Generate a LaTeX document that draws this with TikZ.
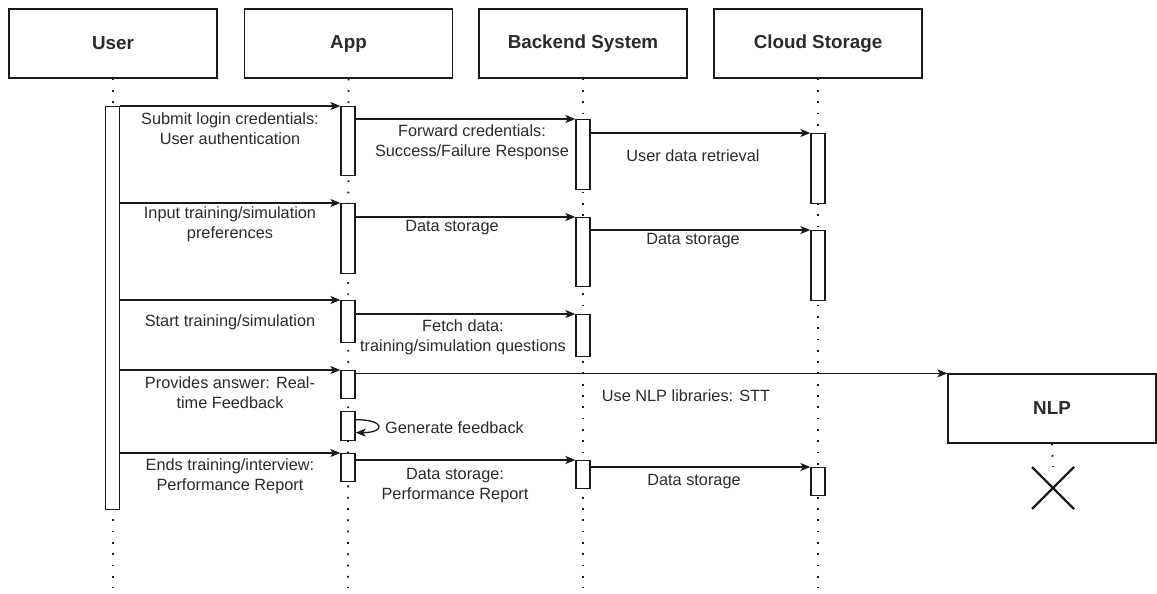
\documentclass[tikz,border=0pt]{standalone}
\usepackage{fontspec}
\setmainfont{Liberation Sans}
\usetikzlibrary{arrows.meta,calc}
\definecolor{linec}{HTML}{1A1A1A}
\definecolor{txt}{HTML}{2B2B2B}
\begin{document}
\begin{tikzpicture}[x=1pt,y=-1pt,
  head/.style={draw=linec, fill=white, line width=1.3pt, minimum width=208pt,
    minimum height=69pt, inner sep=0pt, text=txt,
    font=\fontsize{18.8}{22}\selectfont\bfseries},
  act/.style={draw=linec, fill=white, line width=1.3pt, minimum width=14pt,
    inner sep=0pt, anchor=north},
  life/.style={draw=linec, line width=1.8pt, dash pattern=on 1.8pt off 9.5pt},
  msg/.style={draw=linec, line width=1.3pt,
    -{Stealth[length=10pt,width=8pt,inset=2.5pt]}},
  lbl/.style={font=\fontsize{16.3}{20}\selectfont, text=txt, align=center,
    inner sep=0pt},
]
\fill[white] (0,0) rectangle (1157,594);
\useasboundingbox (0,0) rectangle (1157,594);

% participants
\node[head] (user)    at (113,43.5)   {User};
\node[head] (app)     at (348.5,43.5) {App};
\node[head] (backend) at (583,43.5)   {Backend System};
\node[head] (cloud)   at (818,43.5)   {Cloud Storage};
\node[head] (nlp)     at (1052,408.5) {NLP};

% lifelines
\coordinate (userEnd)    at (113,588);
\coordinate (appEnd)     at (348,588);
\coordinate (backendEnd) at (583,588);
\coordinate (cloudEnd)   at (818,588);
\coordinate (xmark)      at (1053,488);
\draw[life] (user.south)    -- (userEnd);
\draw[life] (app.south)     -- (appEnd);
\draw[life] (backend.south) -- (backendEnd);
\draw[life] (cloud.south)   -- (cloudEnd);
\draw[life] (nlp.south)     -- ($(xmark)+(0,-21)$);

% destruction mark
\draw[linec, line width=2.2pt] ($(xmark)+(-21,-21)$) -- ($(xmark)+(21,21)$);
\draw[linec, line width=2.2pt] ($(xmark)+(21,-21)$) -- ($(xmark)+(-21,21)$);

% activation bars
\node[act, minimum height=403pt] (uA) at (112.5,106) {};
\node[act, minimum height=69pt] (aA1) at (348,106) {};
\node[act, minimum height=70pt] (aA2) at (348,203) {};
\node[act, minimum height=42pt] (aA3) at (348,300) {};
\node[act, minimum height=28pt] (aA4) at (348,370) {};
\node[act, minimum height=29pt] (aS)  at (348,411) {};
\node[act, minimum height=28pt] (aA6) at (348,453) {};
\node[act, minimum height=70pt] (bA1) at (583,119) {};
\node[act, minimum height=69pt] (bA2) at (583,217) {};
\node[act, minimum height=42pt] (bA3) at (583,314) {};
\node[act, minimum height=28pt] (bA4) at (583,460) {};
\node[act, minimum height=70pt] (cA1) at (818,133) {};
\node[act, minimum height=70pt] (cA2) at (818,230) {};
\node[act, minimum height=28pt] (cA3) at (818,467) {};

% messages
\draw[msg] (uA.east |- aA1.north)  -- (aA1.north west);
\draw[msg] (aA1.east |- bA1.north) -- (bA1.north west);
\draw[msg] (bA1.east |- cA1.north) -- (cA1.north west);
\draw[msg] (uA.east |- aA2.north)  -- (aA2.north west);
\draw[msg] (aA2.east |- bA2.north) -- (bA2.north west);
\draw[msg] (bA2.east |- cA2.north) -- (cA2.north west);
\draw[msg] (uA.east |- aA3.north)  -- (aA3.north west);
\draw[msg] (aA3.east |- bA3.north) -- (bA3.north west);
\draw[msg] (uA.east |- aA4.north)  -- (aA4.north west);
\draw[msg] (aA4.east |- nlp.north west) -- (nlp.north west);
\draw[msg] ($(aS.east)+(0,-6.5)$) .. controls +(30,0) and +(30,0) .. ($(aS.east)+(0,6.5)$);
\draw[msg] (uA.east |- aA6.north)  -- (aA6.north west);
\draw[msg] (aA6.east |- bA4.north) -- (bA4.north west);
\draw[msg] (bA4.east |- cA3.north) -- (cA3.north west);

% message labels
\node[lbl] (l1)  at (230,128.5) {Submit login credentials:\\User authentication};
\node[lbl] (l2)  at (472,142.5) {Forward credentials:\\Success/Failure Response};
\node[lbl] (l3)  at (693,155.5) {User data retrieval};
\node[lbl] (l4)  at (230,224.5) {Input training/simulation\\preferences};
\node[lbl] (l5)  at (452,227.5) {Data storage};
\node[lbl] (l6)  at (693,240.5) {Data storage};
\node[lbl] (l7)  at (230,322.5) {Start training/simulation};
\node[lbl] (l8)  at (463,337)   {Fetch data:\\training/simulation questions};
\node[lbl] (l9)  at (230,392.5) {Provides answer: Real-\\time Feedback};
\node[lbl] (l10) at (686,395.5) {Use NLP libraries: STT};
\node[lbl, anchor=west] (l11) at (385,427.5) {Generate feedback};
\node[lbl] (l12) at (230,476)   {Ends training/interview:\\Performance Report};
\node[lbl] (l13) at (455,485.5) {Data storage:\\Performance Report};
\node[lbl] (l14) at (694,481.5) {Data storage};
\end{tikzpicture}
\end{document}
